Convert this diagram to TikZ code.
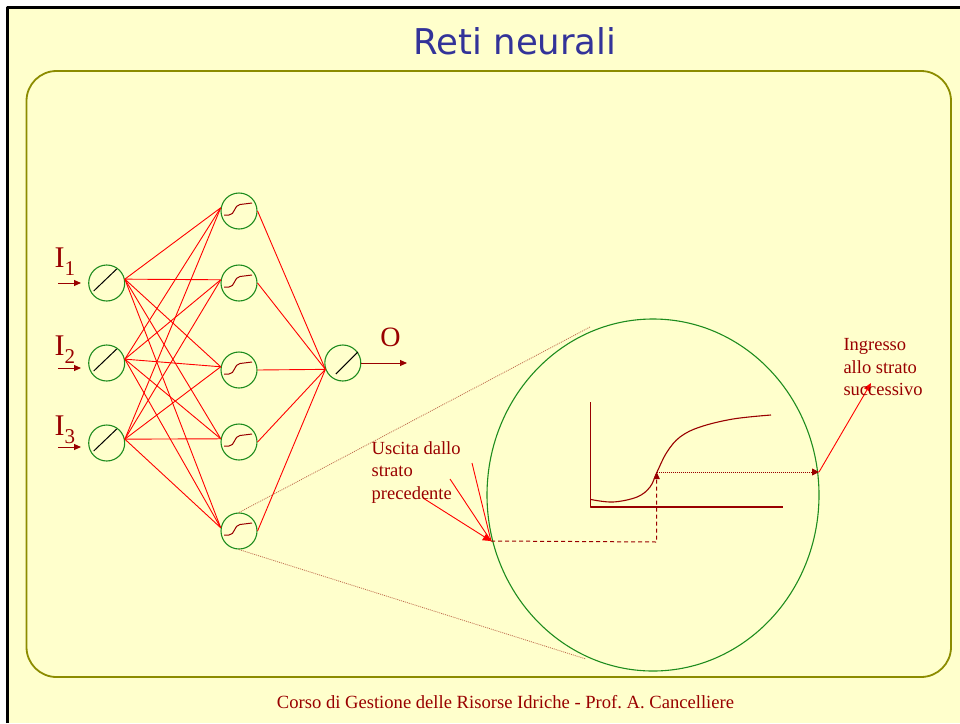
\documentclass[tikz,border=0pt]{standalone}
\usepackage{fontspec}
\setmainfont{Liberation Serif}
\newfontfamily\titlefont{DejaVu Sans}
\usetikzlibrary{arrows.meta,calc,shapes.geometric}
\definecolor{bgy}{HTML}{FFFFCC}
\definecolor{framecol}{HTML}{8C8C00}
\definecolor{ngreen}{HTML}{1E8C1E}
\definecolor{dred}{HTML}{990000}
\definecolor{tblue}{HTML}{333399}
\definecolor{zoomc}{HTML}{C07050}
\tikzset{
  neuron/.style={circle, draw=ngreen, line width=1.1pt, minimum size=36pt, inner sep=0pt},
  conn/.style={red, line width=0.9pt},
  linf/.style={black, line width=1pt},
  sigf/.style={dred, line width=1pt},
  darrow/.style={dred, line width=1pt, -{Triangle[length=7pt,width=6pt]}},
  zoomline/.style={zoomc, line width=0.8pt, dash pattern=on 1pt off 1pt},
  lbl/.style={text=dred, inner sep=0pt, font=\fontsize{18.5}{22.5}\selectfont},
  biglbl/.style={text=dred, inner sep=0pt, font=\fontsize{30}{30}\selectfont},
}
\begin{document}
\begin{tikzpicture}[x=1pt, y=-1pt, line join=round]
\useasboundingbox (0,0) rectangle (960,723);
\fill[white] (0,0) rectangle (960,723);
\fill[bgy] (7.5,7.5) rectangle (960,723);
\draw[black, line width=2.5pt] (7.5,723) -- (7.5,7.5) -- (960,7.5);
\draw[framecol, line width=1.8pt, rounded corners=30pt] (26.5,71) rectangle (951,677);

% title and footer
\node[font=\titlefont\fontsize{35.5}{36}\selectfont, text=tblue, anchor=base, inner sep=0pt] (title) at (515,54) {Reti neurali};
\node[font=\fontsize{18.6}{18}\selectfont, text=dred, anchor=base, inner sep=0pt] (footer) at (505.5,708) {Corso di Gestione delle Risorse Idriche - Prof.\ A.\ Cancelliere};

% input neurons
\node[neuron] (i1) at (106.7,283) {};
\node[neuron] (i2) at (106.7,363) {};
\node[neuron] (i3) at (106.7,443) {};
% hidden neurons
\node[neuron] (h1) at (239,211) {};
\node[neuron] (h2) at (239,283) {};
\node[neuron] (h3) at (239,370) {};
\node[neuron] (h4) at (239,442) {};
\node[neuron] (h5) at (239,531) {};
% output neuron
\node[neuron] (o) at (342.8,363) {};

% transfer functions
\foreach \n in {i1,i2,i3} {
  \begin{scope}[shift={(\n.center)}]
    \draw[linf] (-13,8) -- (10,-14);
  \end{scope}
}
\begin{scope}[shift={(o.center)}]
  \draw[linf] (-7,11) -- (15,-11);
\end{scope}
\foreach \n in {h1,h2,h3,h4,h5} {
  \begin{scope}[shift={(\n.center)}]
    \draw[sigf] (-15,4) -- (-10,4) .. controls (-4,4) and (-5,-6) .. (1,-6.5) -- (13,-8);
  \end{scope}
}

% connections
\foreach \i in {1,2,3} {
  \foreach \h in {1,...,5} {
    \draw[conn] (i\i.12) -- (h\h.170);
  }
}
\foreach \h in {1,...,5} {
  \draw[conn] (h\h.east) -- (o.200);
}

% inputs and output arrows
\coordinate (ia1) at (58,283);
\coordinate (ib1) at (81,283);
\coordinate (ia2) at (58,368);
\coordinate (ib2) at (81,368);
\coordinate (ia3) at (58,447);
\coordinate (ib3) at (81,447);
\draw[darrow] (ia1) -- (ib1);
\draw[darrow] (ia2) -- (ib2);
\draw[darrow] (ia3) -- (ib3);
\coordinate (oend) at (407,363);
\draw[darrow] (o.east) -- (oend);

\node[biglbl, anchor=base west] (l1) at (54.5,267) {I\raisebox{-8pt}{\fontsize{21}{21}\selectfont 1}};
\node[biglbl, anchor=base west] (l2) at (54.5,355) {I\raisebox{-8pt}{\fontsize{21}{21}\selectfont 2}};
\node[biglbl, anchor=base west] (l3) at (54.5,435) {I\raisebox{-8pt}{\fontsize{21}{21}\selectfont 3}};
\node[biglbl, anchor=base, font=\fontsize{28}{28}\selectfont] (lo) at (390.5,346.5) {O};

% magnified neuron
\node[draw=ngreen, line width=1.1pt, ellipse, minimum width=332pt, minimum height=352pt, inner sep=0pt] (big) at (653,495) {};
\coordinate (zt) at (590,327);
\coordinate (zb) at (586,659);
\draw[zoomline] (h5.north) -- (zt);
\draw[zoomline] (h5.south) -- (zb);

% plot inside
\coordinate (yax) at (590.7,402);
\coordinate (orig) at (590.7,507);
\coordinate (xax) at (783,507);
\draw[dred, line width=1.1pt] (yax) -- (orig) -- (xax);
\draw[dred, line width=1.1pt] plot[smooth, tension=0.6] coordinates {(591,499.5) (613,502) (637,497) (650,487) (657,472) (667,452) (680,437) (700,427) (733,419) (771,415)};

\coordinate (inpt) at (491,541);
\coordinate (corner) at (656.7,542);
\coordinate (curvept) at (656.7,472);
\coordinate (outpt) at (819,472);
\coordinate (ingr) at (871,383);
\coordinate (u1) at (472,463);
\coordinate (u2) at (450,479);
\coordinate (u3) at (423,498);

\draw[dred, line width=1pt, dash pattern=on 4pt off 3pt, -{Triangle[length=7pt,width=6pt]}] (inpt) -- (corner) -- (curvept);
\draw[dred, line width=0.8pt, dash pattern=on 1pt off 1pt, -{Triangle[length=7pt,width=7pt]}] (curvept) -- (outpt);
\draw[conn] (u1) -- (inpt);
\draw[conn] (u2) -- (inpt);
\draw[conn, -{Triangle[length=8pt,width=8pt]}] (u3) -- (inpt);
\draw[conn, -{Triangle[length=8pt,width=7pt]}] (outpt) -- (ingr);

\node[lbl, anchor=base west] (usc) at (371.5,454) {\begin{tabular}[t]{@{}l@{}}Uscita dallo\\strato\\precedente\end{tabular}};
\node[lbl, anchor=base west] (ing) at (843.3,350.5) {\begin{tabular}[t]{@{}l@{}}Ingresso\\allo strato\\successivo\end{tabular}};
\end{tikzpicture}
\end{document}
